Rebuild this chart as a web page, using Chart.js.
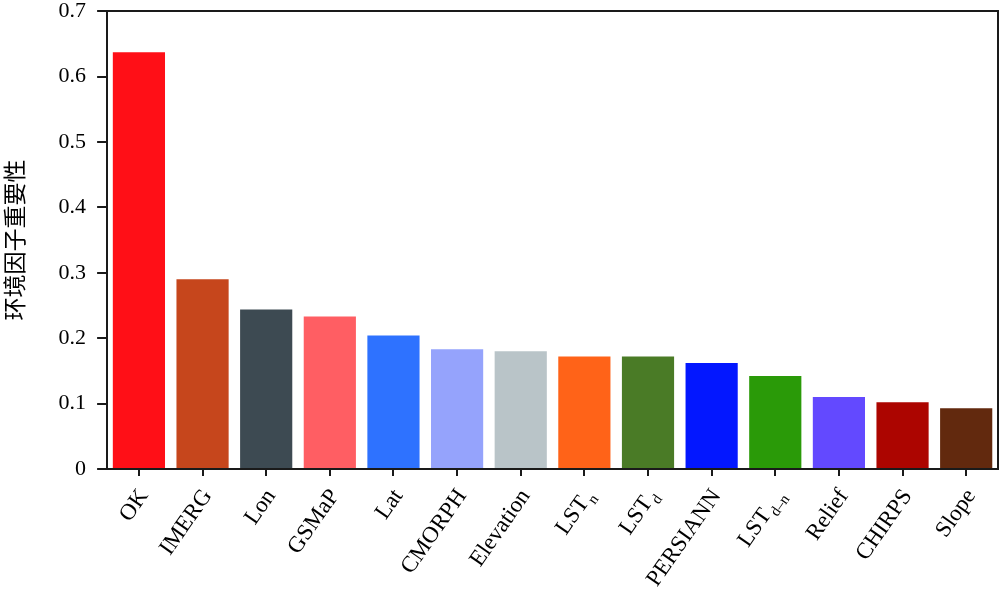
<!DOCTYPE html>
<html>
<head>
<meta charset="utf-8">
<script src="https://cdn.jsdelivr.net/npm/chart.js@4/dist/chart.umd.min.js"></script>
<style>
  html, body { margin: 0; padding: 0; background: #fff; }
  #wrap { width: 1000px; height: 591px; }
</style>
</head>
<body>
<div id="wrap"><canvas id="importanceChart"></canvas></div>
<script>
// factor names, "_" marks a subscript part
var categories = ['OK', 'IMERG', 'Lon', 'GSMaP', 'Lat', 'CMORPH', 'Elevation', 'LST_n', 'LST_d', 'PERSIANN', 'LST_d\u2013n', 'Relief', 'CHIRPS', 'Slope'];
var importance = [0.637, 0.290, 0.244, 0.233, 0.204, 0.183, 0.180, 0.172, 0.172, 0.162, 0.142, 0.110, 0.102, 0.093];
var barColors = ['#ff0f17', '#c6461c', '#3d4a52', '#ff5e63', '#2e72ff', '#95a3fc', '#b9c4c8', '#ff6318', '#4a7b26', '#0317ff', '#2a9a08', '#6349ff', '#ac0500', '#62290e'];
var yTicks = [0, 0.1, 0.2, 0.3, 0.4, 0.5, 0.6, 0.7];

var serif = '"Liberation Serif", "Times New Roman", serif';

// top and right edges of the box
var framePlugin = {
    id: 'frame',
    afterDraw: function (chart) {
        var a = chart.chartArea, ctx = chart.ctx;
        ctx.save();
        ctx.strokeStyle = '#1a1a1a';
        ctx.lineWidth = 2;
        ctx.beginPath();
        ctx.moveTo(a.left - 1, a.top);
        ctx.lineTo(a.right, a.top);
        ctx.lineTo(a.right, a.bottom + 1);
        ctx.stroke();
        ctx.restore();
    }
};

// rotated x labels with subscripts
var xLabelPlugin = {
    id: 'xLabels',
    afterDraw: function (chart) {
        var xs = chart.scales.x, ctx = chart.ctx;
        var angle = -55 * Math.PI / 180;
        ctx.save();
        ctx.fillStyle = '#000';
        ctx.textAlign = 'right';
        ctx.textBaseline = 'middle';
        categories.forEach(function (name, i) {
            var parts = name.split('_');
            var main = parts[0], sub = parts[1] || '';
            var x = xs.getPixelForTick(i) + 5;
            var y = xs.top + 23;
            ctx.save();
            ctx.translate(x, y);
            ctx.rotate(angle);
            var subW = 0;
            if (sub) {
                ctx.font = '15px ' + serif;
                subW = ctx.measureText(sub).width + 1;
                ctx.fillText(sub, 0, 8);
            }
            ctx.font = '23px ' + serif;
            ctx.fillText(main, -subW, 0);
            ctx.restore();
        });
        ctx.restore();
    }
};

var ctx1 = document.getElementById('importanceChart').getContext('2d');
var importanceChart = new Chart(ctx1, {
    type: 'bar',
    data: {
        labels: categories,
        datasets: [{
            label: '环境因子重要性',
            data: importance,
            backgroundColor: barColors,
            barPercentage: 0.82,
            categoryPercentage: 1
        }]
    },
    options: {
        responsive: true,
        maintainAspectRatio: false,
        animation: false,
        layout: {
            padding: { left: 0, right: 2, top: 0, bottom: 115 }
        },
        plugins: {
            legend: { display: false },
            tooltip: { enabled: false }
        },
        scales: {
            x: {
                grid: {
                    display: true,
                    offset: false,
                    drawOnChartArea: false,
                    drawTicks: true,
                    tickLength: 7,
                    color: '#1a1a1a',
                    lineWidth: 2
                },
                border: { display: true, color: '#1a1a1a', width: 2 },
                ticks: { display: false }
            },
            y: {
                min: 0,
                max: 0.7,
                afterBuildTicks: function (axis) {
                    axis.ticks = yTicks.map(function (v) { return { value: v }; });
                },
                grid: {
                    display: true,
                    drawOnChartArea: false,
                    drawTicks: true,
                    tickLength: 10,
                    color: '#1a1a1a',
                    lineWidth: 2
                },
                border: { display: true, color: '#1a1a1a', width: 2 },
                ticks: {
                    color: '#000',
                    padding: 11,
                    font: { family: serif, size: 22, lineHeight: 0.01 },
                    callback: function (v) { return String(Math.round(v * 10) / 10); }
                },
                title: {
                    display: true,
                    text: '环境因子重要性',
                    color: '#000',
                    font: { family: '"Noto Sans CJK SC", sans-serif', size: 23 },
                    padding: { top: 0, bottom: 20 }
                }
            }
        }
    },
    plugins: [framePlugin, xLabelPlugin]
});
</script>
</body>
</html>
